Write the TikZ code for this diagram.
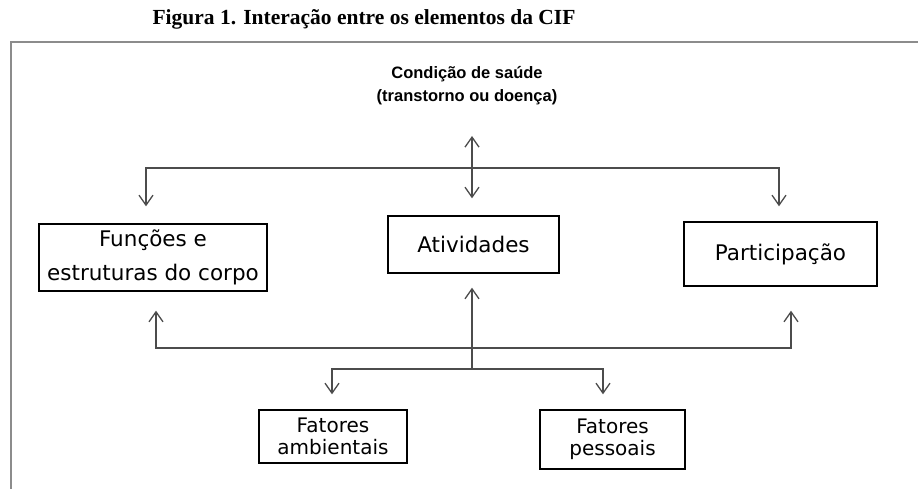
\documentclass[tikz,border=0pt]{standalone}
\usepackage{fontspec}
\setmainfont{Liberation Serif}
\newfontfamily\diagfont{DejaVu Sans}
\newfontfamily\headfont{Liberation Sans}
\usetikzlibrary{arrows.meta}
\tikzset {
  % component of the CIF model
  comp/.style = {
    draw = black,
    line width = 1.4pt,
    rectangle,
    align = center,
    inner sep = 0pt,
    font = \diagfont\fontsize{21.5}{34}\selectfont
  },
  % small two line box at the bottom
  factor/.style = {
    comp,
    font = \diagfont\fontsize{20}{22}\selectfont
  },
  % connector with open arrow tips
  link/.style = {
    draw = black!70,
    line width = 1.3pt,
    > = {Straight Barb[length=10pt,width=14pt]}
  },
  % outer frame (top and left only)
  frame/.style = {
    draw = black!45,
    line width = 2pt
  }
}

\begin{document}
\begin{tikzpicture}[x=1pt, y=-1pt]
    \useasboundingbox (0,0) rectangle (918,489);

    \node[font=\bfseries\fontsize{21.5}{24}\selectfont] (title) at (364,19) {Figura 1. Interação entre os elementos da CIF};
    \draw[frame] (918,42) -| (11,489);

    \node[align=center, font=\headfont\bfseries\fontsize{16.5}{23}\selectfont] (cond) at (467,86) {Condição de saúde\\(transtorno ou doença)};

    \node[comp, minimum width=228pt, minimum height=67pt] (func) at (153,257.5) {Funções e\\estruturas do corpo};
    \node[comp, minimum width=171pt, minimum height=57pt] (ativ) at (473.5,244.5) {Atividades};
    \node[comp, minimum width=193pt, minimum height=64pt] (part) at (780.5,254) {Participação};
    \node[factor, minimum width=148pt, minimum height=53pt] (amb) at (333,436.5) {Fatores\\ambientais};
    \node[factor, minimum width=145pt, minimum height=59pt] (pess) at (612.5,439.5) {Fatores\\pessoais};

    \coordinate (cond-in) at (472,136);
    \coordinate (bus-top) at (472,168);
    \coordinate (bus-low) at (472,348);
    \coordinate (split) at (472,369);

    \draw[link, <->] (cond-in)
    -- ([xshift=-1.5pt, yshift=17pt]ativ.north);

    \draw[link, <->] ([xshift=-7pt, yshift=17pt]func.north)
    |- (bus-top)
    -| ([xshift=-1.5pt, yshift=15pt]part.north);

    \draw[link, <->] ([xshift=3pt, yshift=-19pt]func.south)
    |- (bus-low)
    -| ([xshift=10.5pt, yshift=-24pt]part.south);

    \draw[link, ->] (split)
    -- ([xshift=-1.5pt, yshift=-14pt]ativ.south);

    \draw[link, <->] ([xshift=-1pt, yshift=15pt]amb.north)
    |- (split)
    -| ([xshift=-9.5pt, yshift=15pt]pess.north);
\end{tikzpicture}
\end{document}
